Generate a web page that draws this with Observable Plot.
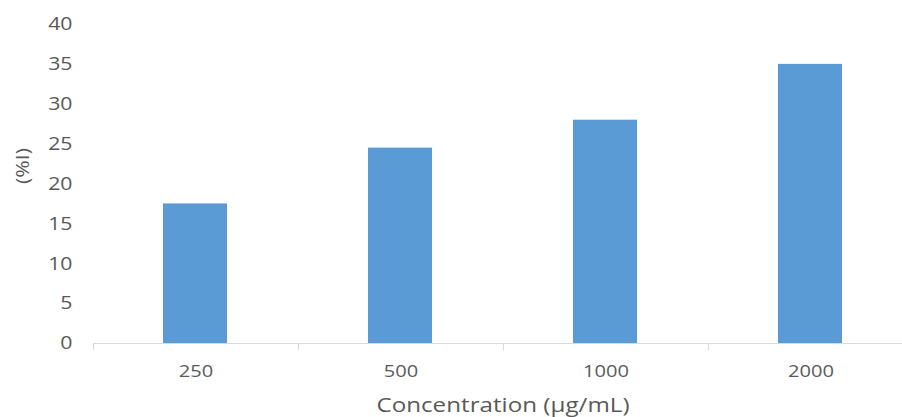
<!DOCTYPE html>
<html>
<head>
<meta charset="utf-8">
<script src="https://cdn.jsdelivr.net/npm/d3@7"></script>
<script src="https://cdn.jsdelivr.net/npm/@observablehq/plot@0.6"></script>
<style>
  html, body { margin: 0; padding: 0; background: #fff; }
  #chart svg { display: block; }
</style>
</head>
<body>
<div id="chart"></div>
<script>
const categories = ["250", "500", "1000", "2000"];
const values = [17.5, 24.5, 28, 35];
const yTicks = [0, 5, 10, 15, 20, 25, 30, 35, 40];
const xTitle = "Concentration (μg/mL)";
const yTitle = "(%I)";

const data = categories.map((c, i) => ({ c, v: values[i] }));
const font = "'Open Sans', sans-serif";
const grey = "#595959";

const chart = Plot.plot({
  width: 902,
  height: 417,
  marginTop: 0,
  marginBottom: 0,
  marginLeft: 93,
  marginRight: 0,
  style: { fontFamily: font, fontSize: "18px", color: grey, background: "#fff", overflow: "hidden" },
  x: { domain: categories, range: [93, 913], padding: 0, axis: null },
  y: { domain: [0, 40], range: [343, 24], axis: null },
  marks: [
    Plot.ruleY([0], { stroke: "#d9d9d9", strokeWidth: 1 }),
    Plot.ruleX(categories, { x: d => d, dx: -102.5, y1: 0, y2: -0.9, stroke: "#d9d9d9" }),
    Plot.barY(data, { x: "c", y: "v", fill: "#5b9bd5", insetLeft: 70, insetRight: 71 }),
    Plot.axisY({ ticks: yTicks, tickSize: 0, tickPadding: 21, anchor: "left", label: null, fontSize: 18, fill: grey }),
    Plot.text(categories, { x: d => d, y: 0, dy: 28, fontSize: 17, fill: grey }),
    Plot.text([xTitle], { frameAnchor: "bottom", dx: 5, dy: -6, fontSize: 20.5, fill: grey }),
    Plot.text([yTitle], { frameAnchor: "left", dx: -70, dy: -25, rotate: -90, fontSize: 18, fill: grey })
  ]
});
document.getElementById("chart").appendChild(chart);

// the reference text is horizontally stretched: widen glyphs
const stretch = 1.18;
chart.querySelectorAll("text").forEach(t => {
  const len = t.getComputedTextLength();
  if (len > 0) {
    t.setAttribute("textLength", (len * stretch).toFixed(1));
    t.setAttribute("lengthAdjust", "spacingAndGlyphs");
  }
});
</script>
</body>
</html>
